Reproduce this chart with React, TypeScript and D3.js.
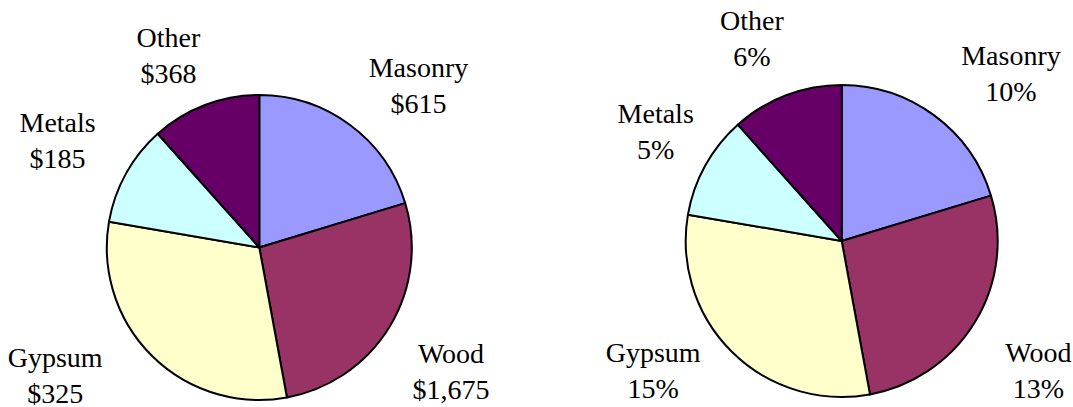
import React from "react";
import * as d3 from "d3";

// ---- data ----
const categories = ["Masonry", "Wood", "Gypsum", "Metals", "Other"];
// slice sizes as drawn in the picture (percent of circle)
const sliceShares = [20.3, 26.8, 30.6, 10.7, 11.6];
// label values
const costValues = [615, 1675, 325, 185, 368];
const percentValues = [10, 13, 15, 5, 6];
const sliceColors = ["#9999FF", "#993366", "#FFFFCC", "#CCFFFF", "#660066"];

// ---- layout ----
const W = 1073;
const H = 407;
const LINE_GAP = 36;

type PieLayout = {
  cx: number;
  cy: number;
  r: number;
  // offsets of each label's first-line baseline from the pie centre
  labelOffsets: [number, number][];
};

const leftLayout: PieLayout = {
  cx: 259.3,
  cy: 247.5,
  r: 152.5,
  labelOffsets: [
    [159.2, -170.8],
    [191.7, 115.8],
    [-204.1, 119.2],
    [-201.7, -115.8],
    [-90.8, -200.8],
  ],
};

const rightLayout: PieLayout = {
  cx: 841.7,
  cy: 241,
  r: 156,
  labelOffsets: [
    [169.3, -176],
    [196.6, 120.7],
    [-188.5, 120.7],
    [-186, -117.7],
    [-89.7, -211],
  ],
};

const fmtCost = d3.format("$,");
const fmtPct = (v: number) => `${v}%`;

function Label({ x, y, text }: { x: number; y: number; text: string }) {
  return (
    <text
      x={x}
      y={y}
      textAnchor="middle"
      style={{ fontFamily: "Times New Roman", fontSize: 28 }}
    >
      {text}
    </text>
  );
}

function Pie({ layout, labels }: { layout: PieLayout; labels: string[] }) {
  const pie = d3
    .pie<number>()
    .sort(null)
    .value((d) => d)
    .startAngle(0)
    .endAngle(2 * Math.PI);
  const arcs = pie(sliceShares);
  const arc = d3.arc<d3.PieArcDatum<number>>().innerRadius(0).outerRadius(layout.r);
  return (
    <g>
      {arcs.map((a, i) => (
        <path
          key={categories[i]}
          transform={`translate(${layout.cx},${layout.cy})`}
          d={arc(a) || ""}
          fill={sliceColors[i]}
          stroke="#000"
          strokeWidth={2}
          strokeLinejoin="round"
        />
      ))}
      {categories.map((c, i) => {
        const [dx, dy] = layout.labelOffsets[i];
        return (
          <React.Fragment key={c}>
            <Label x={layout.cx + dx} y={layout.cy + dy} text={c} />
            <Label x={layout.cx + dx} y={layout.cy + dy + LINE_GAP} text={labels[i]} />
          </React.Fragment>
        );
      })}
    </g>
  );
}

export default function App() {
  return (
    <svg width={W} height={H} style={{ position: "absolute", left: 0, top: 0 }}>
      <rect width={W} height={H} fill="#fff" />
      <Pie layout={leftLayout} labels={costValues.map((v) => fmtCost(v))} />
      <Pie layout={rightLayout} labels={percentValues.map(fmtPct)} />
    </svg>
  );
}
